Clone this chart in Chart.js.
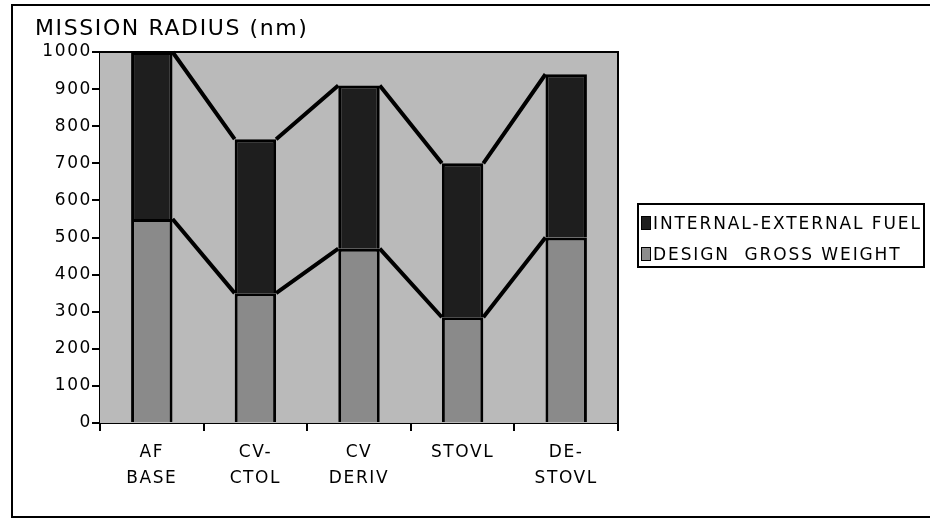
<!DOCTYPE html>
<html>
<head>
<meta charset="utf-8">
<script src="https://cdn.jsdelivr.net/npm/chart.js@4"></script>
<style>
  body { margin: 0; background: #fff; }
  #wrap { position: relative; width: 930px; height: 518px; overflow: hidden; }
  #frame {
    position: absolute; left: 11px; top: 4px; width: 940px; height: 510px;
    border-left: 2px solid #000; border-top: 2px solid #000; border-bottom: 2px solid #000;
  }
  canvas { position: absolute; left: 0; top: 0; }
  #legend {
    position: absolute; left: 637px; top: 203px; width: 284px; height: 61px;
    border: 2px solid #000; background: #fff;
    font-family: "DejaVu Sans", sans-serif; font-size: 17px; letter-spacing: 1.9px;
    white-space: pre; color: #000;
  }
  #legend .item { position: absolute; left: 2px; height: 20px; line-height: 20px; }
  #legend .mark { display: inline-block; width: 8px; height: 12px; border: 1px solid #000;
    vertical-align: -1px; margin-right: 2px; }
</style>
</head>
<body>
<div id="wrap">
  <div id="frame"></div>
  <canvas id="radiusChart" width="930" height="518"></canvas>
  <div id="legend">
    <div class="item" style="top:8px"><span class="mark" style="background:#1e1e1e"></span>INTERNAL-EXTERNAL FUEL</div>
    <div class="item" style="top:39px"><span class="mark" style="background:#8c8c8c"></span>DESIGN  GROSS WEIGHT</div>
  </div>
</div>
<script>
const categories = [['AF', 'BASE'], ['CV-', 'CTOL'], ['CV', 'DERIV'], ['STOVL'], ['DE-', 'STOVL']];
// mission radius (nm)
const designGrossWeight = [550, 350, 470, 285, 500];
const internalExternalFuel = [1000, 765, 910, 700, 940];
const yTicks = [0, 100, 200, 300, 400, 500, 600, 700, 800, 900, 1000];

const plotBg = '#bababa';
const font = { family: 'DejaVu Sans', size: 17 };

// wider, Geneva-like lettering
const spacing = {
    id: 'spacing',
    beforeUpdate(chart) { chart.ctx.letterSpacing = '1.6px'; },
    beforeDraw(chart) { chart.ctx.letterSpacing = '1.6px'; }
};

const plotFrame = {
    id: 'plotFrame',
    beforeDatasetsDraw(chart) {
        const { ctx, chartArea: a } = chart;
        ctx.save();
        ctx.fillStyle = plotBg;
        ctx.fillRect(a.left, a.top, a.right - a.left, a.bottom - a.top);
        ctx.strokeStyle = '#000';
        ctx.lineWidth = 2;
        ctx.beginPath();
        ctx.moveTo(a.left, a.top);
        ctx.lineTo(a.right, a.top);
        ctx.lineTo(a.right, a.bottom);
        ctx.stroke();
        ctx.restore();
    }
};

// lines joining the top corners of neighbouring bars
const joinLines = {
    id: 'joinLines',
    afterDatasetsDraw(chart) {
        const ctx = chart.ctx;
        ctx.save();
        ctx.strokeStyle = '#000';
        ctx.lineWidth = 4;
        ctx.lineCap = 'butt';
        chart.data.datasets.forEach((ds, di) => {
            const bars = chart.getDatasetMeta(di).data;
            ctx.beginPath();
            for (let i = 0; i < bars.length - 1; i++) {
                const a = bars[i], b = bars[i + 1];
                ctx.moveTo(a.x + a.width / 2, a.y);
                ctx.lineTo(b.x - b.width / 2, b.y);
            }
            ctx.stroke();
        });
        ctx.restore();
    }
};

new Chart(document.getElementById('radiusChart'), {
    type: 'bar',
    data: {
        labels: categories,
        datasets: [{
            label: 'DESIGN GROSS WEIGHT',
            data: designGrossWeight,
            backgroundColor: '#8a8a8a',
            borderColor: '#000',
            borderWidth: 3
        }, {
            label: 'INTERNAL-EXTERNAL FUEL',
            data: designGrossWeight.map((v, i) => [v, internalExternalFuel[i]]),
            backgroundColor: '#1e1e1e',
            borderColor: '#000',
            borderWidth: 3
        }]
    },
    options: {
        responsive: false,
        animation: false,
        devicePixelRatio: 1,
        grouped: false,
        categoryPercentage: 1,
        barPercentage: 0.4,
        layout: { padding: { left: 35, right: 312, top: 16, bottom: 10 } },
        plugins: {
            legend: { display: false },
            tooltip: { enabled: false },
            title: {
                display: true,
                text: 'MISSION RADIUS (nm)',
                align: 'start',
                color: '#000',
                font: { family: 'DejaVu Sans', size: 22, weight: 'normal', lineHeight: 1.2 },
                padding: { top: 0, bottom: 9.6 }
            }
        },
        scales: {
            x: {
                offset: true,
                afterFit: s => { s.height = 85; },
                grid: { offset: true, drawOnChartArea: false, tickLength: 8, color: '#000', lineWidth: 2 },
                border: { display: true, color: '#000', width: 2 },
                ticks: { color: '#000', font: { ...font, lineHeight: 1.5 }, padding: 9, maxRotation: 0 }
            },
            y: {
                min: 0,
                max: 1000,
                afterFit: s => { s.width = 65; },
                afterBuildTicks: s => { s.ticks = yTicks.map(v => ({ value: v })); },
                grid: { drawOnChartArea: false, tickLength: 8, color: '#000', lineWidth: 2 },
                border: { display: true, color: '#000', width: 2 },
                ticks: { color: '#000', font, padding: 0, callback: v => String(v) }
            }
        }
    },
    plugins: [spacing, plotFrame, joinLines]
});
</script>
</body>
</html>
